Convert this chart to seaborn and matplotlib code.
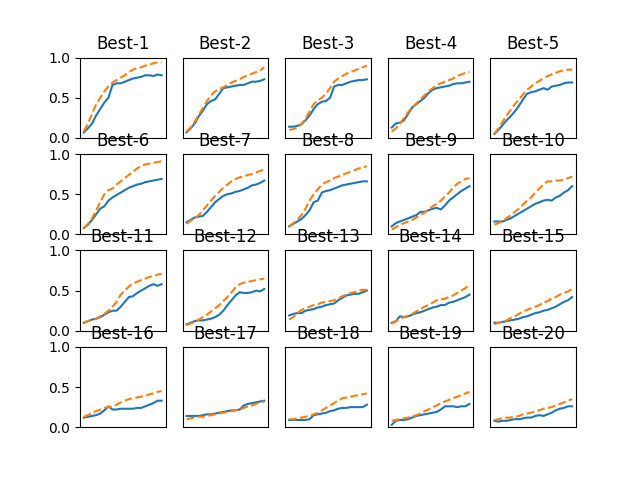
import matplotlib

matplotlib.use("Agg")
import matplotlib.pyplot as plt
import numpy as np
import seaborn as sns

titles = [f"Best-{i}" for i in range(1, 21)]
steps = np.arange(20)

# solid (blue) curves, one list per panel
solid = [
    [0.07, 0.12, 0.18, 0.28, 0.36, 0.44, 0.50, 0.66, 0.68, 0.68, 0.70, 0.72, 0.74, 0.75, 0.76, 0.78, 0.78, 0.77, 0.79, 0.78],
    [0.07, 0.12, 0.18, 0.27, 0.34, 0.42, 0.46, 0.48, 0.55, 0.62, 0.63, 0.64, 0.65, 0.66, 0.66, 0.68, 0.70, 0.70, 0.71, 0.73],
    [0.14, 0.14, 0.15, 0.17, 0.22, 0.28, 0.36, 0.42, 0.45, 0.46, 0.50, 0.64, 0.66, 0.66, 0.68, 0.70, 0.71, 0.72, 0.72, 0.73],
    [0.13, 0.18, 0.19, 0.22, 0.30, 0.38, 0.42, 0.46, 0.50, 0.56, 0.60, 0.62, 0.63, 0.64, 0.65, 0.67, 0.68, 0.68, 0.69, 0.70],
    [0.05, 0.10, 0.16, 0.22, 0.27, 0.33, 0.40, 0.48, 0.55, 0.57, 0.58, 0.60, 0.62, 0.60, 0.64, 0.65, 0.66, 0.68, 0.69, 0.69],
    [0.08, 0.12, 0.18, 0.25, 0.32, 0.35, 0.42, 0.46, 0.49, 0.52, 0.55, 0.58, 0.60, 0.62, 0.63, 0.65, 0.66, 0.67, 0.68, 0.69],
    [0.15, 0.18, 0.21, 0.22, 0.23, 0.28, 0.34, 0.40, 0.44, 0.48, 0.50, 0.51, 0.53, 0.54, 0.56, 0.58, 0.61, 0.62, 0.64, 0.67],
    [0.10, 0.13, 0.16, 0.19, 0.24, 0.30, 0.40, 0.42, 0.52, 0.54, 0.55, 0.57, 0.59, 0.61, 0.62, 0.63, 0.64, 0.65, 0.66, 0.66],
    [0.10, 0.14, 0.16, 0.18, 0.20, 0.22, 0.24, 0.28, 0.28, 0.30, 0.32, 0.33, 0.31, 0.36, 0.42, 0.46, 0.50, 0.54, 0.57, 0.60],
    [0.16, 0.16, 0.16, 0.18, 0.20, 0.23, 0.26, 0.29, 0.32, 0.35, 0.38, 0.40, 0.42, 0.43, 0.42, 0.46, 0.48, 0.52, 0.55, 0.60],
    [0.10, 0.12, 0.14, 0.15, 0.17, 0.20, 0.23, 0.25, 0.25, 0.30, 0.36, 0.42, 0.43, 0.47, 0.50, 0.53, 0.56, 0.58, 0.56, 0.58],
    [0.08, 0.10, 0.12, 0.13, 0.13, 0.14, 0.15, 0.17, 0.20, 0.25, 0.32, 0.38, 0.44, 0.48, 0.47, 0.47, 0.48, 0.50, 0.49, 0.52],
    [0.19, 0.21, 0.22, 0.22, 0.25, 0.26, 0.27, 0.29, 0.30, 0.32, 0.33, 0.34, 0.38, 0.41, 0.44, 0.45, 0.46, 0.46, 0.48, 0.50],
    [0.10, 0.12, 0.18, 0.17, 0.18, 0.20, 0.22, 0.23, 0.25, 0.27, 0.29, 0.30, 0.32, 0.32, 0.35, 0.36, 0.38, 0.40, 0.42, 0.45],
    [0.10, 0.10, 0.11, 0.12, 0.13, 0.14, 0.15, 0.17, 0.18, 0.20, 0.22, 0.23, 0.25, 0.26, 0.28, 0.30, 0.33, 0.36, 0.38, 0.42],
    [0.12, 0.13, 0.14, 0.15, 0.17, 0.21, 0.26, 0.22, 0.22, 0.23, 0.23, 0.23, 0.23, 0.24, 0.24, 0.26, 0.28, 0.30, 0.33, 0.33],
    [0.14, 0.14, 0.14, 0.14, 0.15, 0.16, 0.16, 0.17, 0.18, 0.19, 0.20, 0.21, 0.21, 0.22, 0.27, 0.29, 0.30, 0.31, 0.32, 0.33],
    [0.09, 0.09, 0.09, 0.09, 0.09, 0.10, 0.15, 0.16, 0.17, 0.18, 0.20, 0.21, 0.23, 0.24, 0.24, 0.25, 0.25, 0.25, 0.25, 0.28],
    [0.03, 0.08, 0.09, 0.09, 0.10, 0.12, 0.14, 0.15, 0.16, 0.17, 0.18, 0.19, 0.22, 0.26, 0.26, 0.26, 0.25, 0.26, 0.26, 0.29],
    [0.08, 0.07, 0.08, 0.08, 0.09, 0.10, 0.10, 0.11, 0.12, 0.12, 0.14, 0.15, 0.14, 0.16, 0.18, 0.21, 0.23, 0.24, 0.26, 0.26],
]

# dashed (orange) curves
dashed = [
    [0.08, 0.18, 0.30, 0.42, 0.50, 0.58, 0.64, 0.69, 0.72, 0.75, 0.78, 0.82, 0.85, 0.87, 0.88, 0.90, 0.91, 0.93, 0.94, 0.94],
    [0.08, 0.13, 0.20, 0.29, 0.37, 0.46, 0.53, 0.58, 0.61, 0.63, 0.66, 0.69, 0.71, 0.73, 0.76, 0.78, 0.80, 0.82, 0.84, 0.88],
    [0.10, 0.11, 0.13, 0.17, 0.24, 0.33, 0.42, 0.47, 0.50, 0.55, 0.62, 0.70, 0.74, 0.77, 0.80, 0.82, 0.84, 0.86, 0.88, 0.90],
    [0.08, 0.12, 0.18, 0.25, 0.32, 0.38, 0.43, 0.48, 0.53, 0.58, 0.62, 0.66, 0.68, 0.70, 0.72, 0.74, 0.77, 0.79, 0.81, 0.82],
    [0.05, 0.12, 0.20, 0.28, 0.35, 0.42, 0.48, 0.54, 0.60, 0.64, 0.68, 0.71, 0.74, 0.77, 0.79, 0.81, 0.83, 0.84, 0.85, 0.85],
    [0.08, 0.13, 0.20, 0.30, 0.40, 0.50, 0.55, 0.57, 0.62, 0.66, 0.70, 0.74, 0.78, 0.82, 0.85, 0.87, 0.88, 0.89, 0.90, 0.91],
    [0.13, 0.17, 0.20, 0.24, 0.30, 0.36, 0.42, 0.48, 0.53, 0.58, 0.62, 0.66, 0.69, 0.71, 0.72, 0.74, 0.75, 0.77, 0.79, 0.81],
    [0.10, 0.14, 0.18, 0.24, 0.32, 0.42, 0.50, 0.56, 0.62, 0.65, 0.67, 0.70, 0.72, 0.74, 0.76, 0.78, 0.80, 0.82, 0.83, 0.85],
    [0.06, 0.09, 0.12, 0.14, 0.16, 0.18, 0.21, 0.24, 0.27, 0.31, 0.35, 0.38, 0.42, 0.47, 0.52, 0.58, 0.63, 0.66, 0.69, 0.70],
    [0.12, 0.14, 0.17, 0.20, 0.24, 0.28, 0.32, 0.37, 0.42, 0.46, 0.52, 0.57, 0.62, 0.66, 0.66, 0.67, 0.67, 0.68, 0.70, 0.72],
    [0.10, 0.12, 0.13, 0.15, 0.18, 0.21, 0.25, 0.30, 0.36, 0.45, 0.50, 0.55, 0.59, 0.61, 0.63, 0.65, 0.67, 0.68, 0.70, 0.71],
    [0.07, 0.09, 0.11, 0.14, 0.17, 0.20, 0.24, 0.28, 0.32, 0.37, 0.42, 0.48, 0.54, 0.58, 0.60, 0.61, 0.62, 0.63, 0.64, 0.65],
    [0.14, 0.17, 0.22, 0.26, 0.28, 0.30, 0.32, 0.33, 0.35, 0.36, 0.37, 0.38, 0.40, 0.43, 0.45, 0.47, 0.48, 0.50, 0.51, 0.51],
    [0.09, 0.12, 0.15, 0.17, 0.19, 0.21, 0.24, 0.27, 0.30, 0.32, 0.35, 0.38, 0.39, 0.40, 0.42, 0.44, 0.47, 0.50, 0.53, 0.57],
    [0.08, 0.10, 0.11, 0.13, 0.16, 0.18, 0.21, 0.24, 0.26, 0.28, 0.30, 0.32, 0.35, 0.37, 0.40, 0.42, 0.45, 0.47, 0.49, 0.52],
    [0.13, 0.15, 0.18, 0.20, 0.22, 0.24, 0.25, 0.26, 0.28, 0.31, 0.33, 0.35, 0.36, 0.37, 0.38, 0.39, 0.41, 0.42, 0.44, 0.45],
    [0.10, 0.11, 0.12, 0.13, 0.13, 0.14, 0.15, 0.16, 0.17, 0.18, 0.19, 0.20, 0.21, 0.22, 0.24, 0.26, 0.27, 0.29, 0.31, 0.32],
    [0.10, 0.10, 0.11, 0.12, 0.13, 0.14, 0.16, 0.18, 0.21, 0.24, 0.27, 0.30, 0.33, 0.36, 0.37, 0.38, 0.39, 0.40, 0.41, 0.42],
    [0.08, 0.09, 0.10, 0.11, 0.12, 0.13, 0.15, 0.17, 0.20, 0.22, 0.25, 0.27, 0.30, 0.32, 0.34, 0.36, 0.38, 0.40, 0.42, 0.44],
    [0.09, 0.10, 0.11, 0.12, 0.12, 0.13, 0.14, 0.16, 0.17, 0.18, 0.20, 0.21, 0.23, 0.24, 0.25, 0.27, 0.29, 0.31, 0.33, 0.35],
]

fig, axes = plt.subplots(4, 5, figsize=(6.4, 4.8), dpi=100)

for i, ax in enumerate(axes.flat):
    sns.lineplot(x=steps, y=solid[i], ax=ax, color="C0")
    sns.lineplot(x=steps, y=dashed[i], ax=ax, color="C1", linestyle="--")
    ax.set_title(titles[i])
    ax.set_ylim(0, 1)
    ax.set_xticks([])
    if i % 5 == 0:
        ax.set_yticks([0.0, 0.5, 1.0])
    else:
        ax.set_yticks([])

plt.savefig("out.png")
